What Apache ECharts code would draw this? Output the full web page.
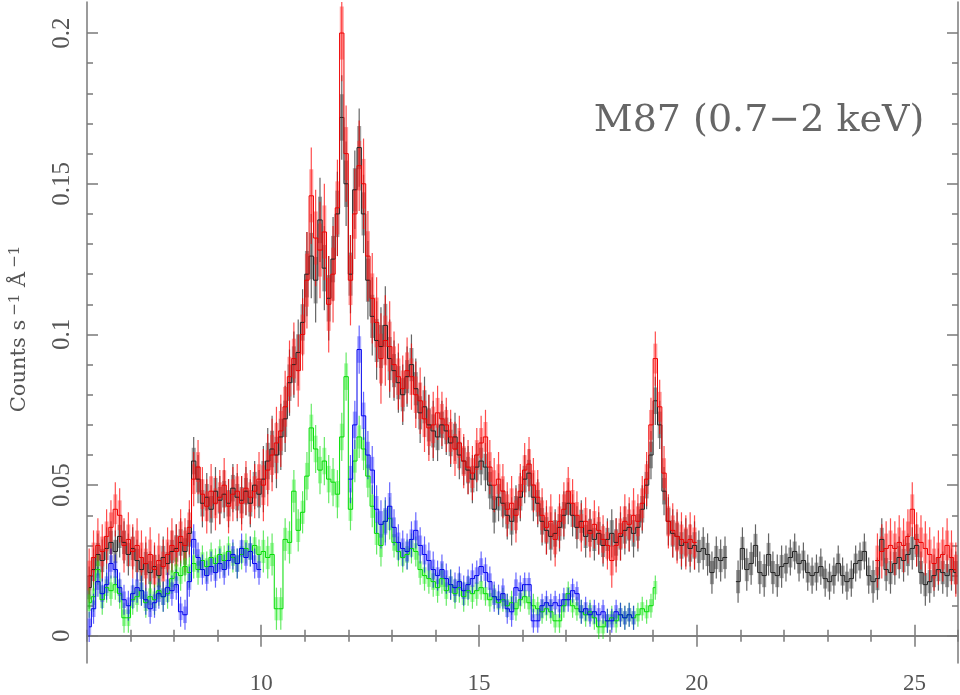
<!DOCTYPE html>
<html>
<head>
<meta charset="utf-8">
<title>M87 (0.7-2 keV)</title>
<script src="https://cdn.jsdelivr.net/npm/echarts@6/dist/echarts.min.js"></script>
<style>
html, body { margin: 0; padding: 0; background: #fff; }
#chart { width: 960px; height: 695px; }
</style>
</head>
<body>
<div id="chart"></div>
<script>
// wavelength bins, 0.1 A wide, the first one starts at 6.0 A
const binStart = 6.0
const binWidth = 0.1

// counts s^-1 A^-1 in units of 1e-3, one value per bin (null = no data), 10 bins per row
const blackVals = [
  16, 22, 27, 25, 29, 31, 28, 33, 31, 27,
  29, 25, 22, 24, 21, 23, 20, 26, 24, 28,
  29, 31, 28, 34, 58, 52, 44, 46, 42, 48,
  45, 47, 44, 49, 46, 45, 48, 44, 50, 47,
  52, 58, 62, 60, 66, 72, 84, 90, 94, 104,
  120, 126, 118, 138, 122, 112, 125, 140, 172, 150,
  120, 148, 162, 140, 118, 106, 98, 96, 103, 92,
  88, 84, 80, 86, 90, 82, 74, 76, 70, 68,
  66, 70, 68, 64, 66, 60, 58, 55, 52, 56,
  58, 56, 50, 42, 46, 44, 40, 38, 42, 46,
  52, 54, 46, 44, 38, 35, 33, 34, 36, 40,
  44, 40, 36, 38, 33, 35, 32, 34, 30, 32,
  34, 31, 33, 35, 36, 34, 36, 42, 50, 60,
  78, 70, 48, 38, 34, 33, 30, 31, 29, 30,
  28, 29, 27, 21, 26, 25, 26, null, null, 18,
  29, 22, 24, 30, 21, 20, 27, 21, 20, 23,
  24, 26, 28, 24, 25, 21, 20, 21, 23, 19,
  18, 20, 24, 20, 18, 19, 24, 25, 28, 20,
  18, 19, 32, 22, 21, 24, 26, 25, 27, 29,
  30, 21, 17, 18, 20, 22, 21, 20, 22, 21
]
const redVals = [
  20, 26, 30, 28, 33, 36, 42, 40, 30, 32,
  28, 30, 26, 24, 27, 22, 25, 23, 27, 30,
  28, 33, 30, 36, 52, 56, 47, 43, 48, 44,
  46, 50, 43, 47, 48, 44, 49, 46, 48, 52,
  50, 55, 60, 64, 68, 76, 86, 92, 88, 100,
  118, 146, 132, 128, 134, 110, 120, 142, 200, 160,
  118, 140, 156, 150, 126, 112, 104, 92, 98, 96,
  90, 86, 82, 88, 86, 80, 78, 72, 69, 70,
  74, 72, 70, 66, 62, 64, 58, 56, 54, 60,
  64, 66, 56, 50, 52, 48, 42, 44, 40, 48,
  55, 57, 50, 46, 40, 36, 38, 32, 38, 42,
  48, 44, 40, 36, 38, 34, 37, 35, 32, 30,
  25, 30, 34, 38, 37, 40, 38, 44, 52, 70,
  92, 76, 54, 38, 35, 33, 32, 31, 32, 31,
  null, null, null, null, null, null, null, null, null, null,
  null, null, null, null, null, null, null, null, null, null,
  null, null, null, null, null, null, null, null, null, null,
  null, null, null, null, null, null, null, null, null, null,
  null, 25, 28, 29, 30, 29, 31, 30, 33, 42,
  32, 31, 29, 27, 24, 26, 27, 30, 26, 22
]
const blueVals = [
  3, 9, 18, 14, 17, 24, 22, 16, 12, 10,
  14, 16, 15, 12, 9, 11, 14, 13, 16, 15,
  17, 8, 7, 18, 32, 26, 22, 20, 23, 21,
  24, 22, 25, 27, 24, 29, 26, 28, 24, 22,
  null, null, null, null, null, null, null, null, null, null,
  null, null, null, null, null, null, null, null, null, null,
  52, 70, 95, 73, 60, 55, 42, 37, 38, 43,
  36, 31, 29, 28, 32, 35, 30, 27, 25, 22,
  20, 22, 19, 17, 16, 18, 15, 17, 19, 20,
  23, 21, 18, 13, 12, 14, 9, 8, 16, 15,
  17, 17, 5, 5, 10, 11, 10, 11, 10, 12,
  12, 15, 14, 8, 9, 7, 8, 7, 8, 5,
  5, 8, 7, 6, 7, 6
]
const greenVals = [
  11, 13, 22, 12, 16, 15, 17, 14, 6, 6,
  12, 13, 15, 11, 13, 12, 15, 13, 14, 19,
  21, 20, 23, 21, 24, 22, 25, 23, 26, 24,
  27, 25, 28, 26, 24, 27, 29, 28, 30, 27,
  28, 26, 27, 9, 9, 32, 31, 48, 35, 41,
  53, 69, 62, 55, 58, 52, 51, 47, 66, 86,
  42, 58, 66, 62, 53, 43, 34, 30, 38, 39,
  31, 28, 26, 27, 29, 28, 22, 20, 19, 18,
  16, 19, 15, 17, 14, 16, 13, 15, 14, 15,
  16, 14, 12, 13, 11, 12, 10, 11, 9, 12,
  13, 11, 10, 9, 8, 9, 8, 5, 5, 10,
  14, 10, 9, 8, 7, 8, 6, 3, 3, 5,
  6, 5, 7, 6, 7, 6, 7, 9, 8, 10,
  16
]

// half length of the error bars, one per 1 A (index 0 = 6-7 A), units of 1e-3
const blackErr = [7, 7, 8, 8, 11, 14, 13, 10, 8, 8, 8, 7, 8, 8, 7, 7, 6, 6, 7, 7]
const redErr = [9, 9, 9, 9, 12, 16, 15, 11, 9, 9, 9, 8, 9, 9, 8, 8, 8, 8, 9, 9]
const blueErr = [5, 5, 5, 5, 6, 6, 8, 6, 5, 5, 4, 4, 4]
const greenErr = [5, 5, 5, 5, 7, 8, 7, 5, 5, 4, 4, 4, 4, 4]

// axis ticks
const xLabels = [10, 15, 20, 25]
const yLabels = [0, 0.05, 0.1, 0.15, 0.2]
const yMinor = [0, 0.01, 0.02, 0.03, 0.04, 0.05, 0.06, 0.07, 0.08, 0.09, 0.1,
  0.11, 0.12, 0.13, 0.14, 0.15, 0.16, 0.17, 0.18, 0.19, 0.2]

const axisColor = '#7a7a7a'
const textColor = '#555'

function binCenter(i) {
  return +(binStart + binWidth * (i + 0.5)).toFixed(3)
}

function stepData(vals) {
  return vals.map((v, i) => [binCenter(i), v == null ? null : v / 1000])
}

function errData(vals, err) {
  const out = []
  vals.forEach((v, i) => {
    if (v == null) return
    const x = binCenter(i)
    out.push([x, v / 1000, err[Math.floor(x - binStart)] / 1000])
  })
  return out
}

function errRenderer(stroke, fill) {
  return function (params, api) {
    const x = api.value(0)
    const y = api.value(1)
    const e = api.value(2)
    const hi = api.coord([x, y + e])
    const lo = api.coord([x, y - e])
    const hi2 = api.coord([x, y + e * 0.55])
    const lo2 = api.coord([x, y - e * 0.55])
    return {
      type: 'group',
      children: [
        {
          type: 'line',
          shape: { x1: hi[0], y1: hi[1], x2: lo[0], y2: lo[1] },
          style: { stroke: stroke, lineWidth: 1.2 }
        },
        {
          type: 'rect',
          shape: { x: hi2[0] - 2, y: hi2[1], width: 4, height: lo2[1] - hi2[1] },
          style: { fill: fill }
        }
      ]
    }
  }
}

function spectrum(name, vals, err, lineColor, stroke, fill) {
  return [
    {
      name: name,
      type: 'custom',
      clip: true,
      silent: true,
      renderItem: errRenderer(stroke, fill),
      data: errData(vals, err)
    },
    {
      name: name,
      type: 'line',
      step: 'middle',
      symbol: 'none',
      connectNulls: false,
      silent: true,
      lineStyle: { color: lineColor, width: 1 },
      data: stepData(vals)
    }
  ]
}

const tickStyle = { color: axisColor, width: 1.5 }

function xAxisPair(position) {
  return [
    {
      type: 'value', position: position, min: 6, max: 26, interval: 1,
      axisLine: { show: true, lineStyle: tickStyle },
      axisTick: { show: true, inside: true, length: 6, lineStyle: tickStyle },
      axisLabel: position === 'bottom'
        ? { show: true, customValues: xLabels, color: textColor, fontFamily: 'Liberation Serif', fontSize: 23, margin: 9 }
        : { show: false },
      splitLine: { show: false }
    },
    {
      type: 'value', position: position, min: 6, max: 26,
      axisLine: { show: false },
      axisTick: { show: true, inside: true, length: 11, customValues: xLabels, lineStyle: tickStyle },
      axisLabel: { show: false },
      splitLine: { show: false }
    }
  ]
}

function yAxisPair(position) {
  return [
    {
      type: 'value', position: position, min: -0.009, max: 0.2103,
      axisLine: { show: true, lineStyle: tickStyle },
      axisTick: { show: true, inside: true, length: 6, customValues: yMinor, lineStyle: tickStyle },
      axisLabel: position === 'left'
        ? {
            show: true, customValues: yLabels, rotate: 90, color: textColor,
            fontFamily: 'Liberation Serif', fontSize: 25, margin: 12,
            formatter: v => String(Math.round(v * 100) / 100)
          }
        : { show: false },
      splitLine: { show: false }
    },
    {
      type: 'value', position: position, min: -0.009, max: 0.2103,
      axisLine: { show: false },
      axisTick: { show: true, inside: true, length: 11, customValues: yLabels, lineStyle: tickStyle },
      axisLabel: { show: false },
      splitLine: { show: false }
    }
  ]
}

const chart = echarts.init(document.getElementById('chart'))
chart.setOption({
  animation: false,
  backgroundColor: '#fff',
  grid: { left: 87, right: 2, top: 2, bottom: 30 },
  xAxis: [...xAxisPair('bottom'), ...xAxisPair('top')],
  yAxis: [...yAxisPair('left'), ...yAxisPair('right')],
  graphic: [
    {
      type: 'text',
      x: 759,
      y: 121,
      style: {
        text: 'M87 (0.7\u22122 keV)',
        fill: '#666',
        font: '38px "DejaVu Serif"',
        align: 'center',
        verticalAlign: 'middle'
      }
    },
    {
      type: 'text',
      x: 20,
      y: 329,
      rotation: Math.PI / 2,
      style: {
        text: 'Counts s{s|\u22121} \u00c5{s|\u22121}',
        fill: textColor,
        fontFamily: 'DejaVu Serif',
        fontSize: 21,
        align: 'center',
        verticalAlign: 'middle',
        rich: {
          s: { fontFamily: 'DejaVu Serif', fontSize: 15, fill: textColor, verticalAlign: 'top', padding: [0, 0, 10, 4] }
        }
      }
    }
  ],
  series: [
    ...spectrum('black', blackVals, blackErr, '#222', 'rgba(50,50,50,0.75)', 'rgba(80,80,80,0.55)'),
    ...spectrum('red', redVals, redErr, '#ee0000', 'rgba(255,0,0,0.7)', 'rgba(255,40,40,0.45)'),
    ...spectrum('green', greenVals, greenErr, '#00dd00', 'rgba(0,220,0,0.6)', 'rgba(40,240,40,0.4)'),
    ...spectrum('blue', blueVals, blueErr, '#0000ee', 'rgba(0,0,255,0.6)', 'rgba(40,40,255,0.4)')
  ]
})
</script>
</body>
</html>
